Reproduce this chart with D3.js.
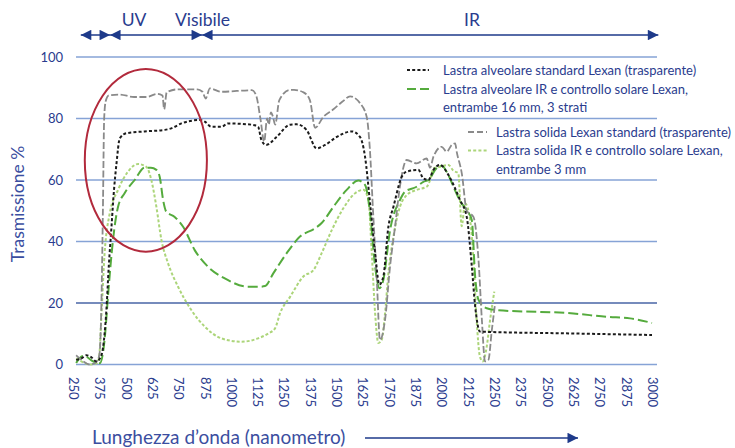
<!DOCTYPE html>
<html><head><meta charset="utf-8">
<script src="https://cdn.jsdelivr.net/npm/d3@7"></script>
<style>
html,body{margin:0;padding:0;background:#fff;}
svg{display:block;font-family:Lato,"Open Sans",sans-serif;}
</style></head>
<body>
<svg id="chart" width="735" height="448"></svg>
<script>
// ---------- DATA ----------
const xTicks = [250,375,500,625,750,875,1000,1125,1250,1375,1500,1625,1750,1875,2000,2125,2250,2375,2500,2625,2750,2875,3000];
const yTicks = [0,20,40,60,80,100];

// [wavelength nm, transmission %]
const alveolareStandard = [[265,1.5],[290,2],[313,3],[335,2.5],[361,1],[385,3],[400,10],[408,17],[420,32],[432,44],[445,57],[456,65],[472,73.5],[503,75.2],[590,75.8],[686,76.3],[717,76.8],[765,78.4],[852,79.5],[876,79],[907,77.3],[955,77.3],[986,78.4],[1097,78],[1129,77.3],[1145,73],[1168,71.4],[1217,74],[1281,78],[1313,78.1],[1360,76.2],[1407,70.3],[1447,71.4],[1503,74],[1574,75.8],[1613,74],[1637,67.6],[1661,52.4],[1685,36.2],[1705,26],[1724,28.6],[1748,44.8],[1772,51.3],[1811,61],[1835,62.7],[1890,63.3],[1914,60.5],[1938,60],[1962,63.3],[1993,64.9],[2030,62],[2060,58],[2088,53.5],[2120,48],[2144,32],[2160,19],[2183,10.7],[2611,10.1],[3000,9.6]];

const alveolareIR = [[265,0.5],[280,2],[295,2.8],[315,2.5],[345,1],[377,0.4],[400,8],[416,22],[428,32],[440,40.5],[464,51.3],[495,55.7],[543,60],[590,64],[620,64],[646,63.3],[662,61],[678,53.5],[693,49.7],[733,48],[773,44.8],[828,37.2],[891,31.8],[971,28],[1081,25.3],[1138,25.3],[1162,25.5],[1202,29.7],[1265,36.2],[1328,41.6],[1400,44.3],[1431,46],[1487,51.3],[1550,56.8],[1605,59.8],[1637,58.4],[1661,49.2],[1685,31.8],[1705,24.8],[1724,27.5],[1756,43.7],[1803,53.5],[1827,56.2],[1882,57.8],[1914,59.4],[1938,60],[1977,63.8],[2001,64.6],[2030,62],[2057,57.8],[2090,53],[2120,50.2],[2144,47],[2160,28.6],[2176,21],[2215,18.3],[2263,17.7],[2627,16.6],[2785,15.5],[2896,15],[3000,13.5]];

const solidaStandard = [[265,3],[290,1.5],[330,0],[355,0.5],[375,3],[385,20],[392,50],[398,80],[405,85.5],[420,87.5],[470,87.8],[540,87],[600,87],[650,88],[675,87.5],[683,83],[695,88.5],[750,89.5],[840,89.5],[865,88.7],[880,86.5],[900,89.8],[955,88.7],[1100,89.2],[1120,87.5],[1140,80],[1158,72.5],[1172,80],[1180,78],[1190,82],[1200,80.5],[1210,78],[1230,86],[1280,89.3],[1300,89.3],[1345,88.5],[1375,86],[1400,77],[1440,80.6],[1487,83],[1530,85.5],[1566,87.2],[1613,85],[1645,80.5],[1660,70],[1675,50],[1693,27.5],[1708,8],[1732,14.5],[1756,32],[1780,45],[1803,58],[1835,66.5],[1882,65.4],[1930,67],[1946,64],[1962,67.6],[2001,70.8],[2025,69.2],[2049,71.4],[2065,71.9],[2073,69],[2097,62],[2120,50],[2152,48],[2176,34],[2192,14.5],[2207,1],[2223,1.5],[2239,11],[2255,20]];

const solidaIR = [[265,2],[290,1],[330,0],[365,0.5],[375,3],[384,14.5],[400,36],[424,49],[464,56.8],[511,62.7],[559,65.2],[598,64.3],[622,60],[646,51.3],[670,40.5],[701,33],[749,25.3],[812,17.7],[876,12.3],[955,8.5],[1050,7.4],[1129,8.5],[1178,10.1],[1210,11.8],[1233,16.6],[1281,22],[1344,28.6],[1392,30.7],[1431,36.2],[1479,43.7],[1534,50.8],[1590,55.7],[1629,56.8],[1653,53.5],[1669,36.2],[1685,16.6],[1700,7],[1716,8],[1732,16.6],[1748,29.7],[1772,41.6],[1803,51.3],[1835,55.1],[1882,56.8],[1930,57.8],[1946,60],[1962,63.8],[1993,64.3],[2033,64.9],[2057,63],[2080,62.2],[2096,45],[2112,52.4],[2136,47],[2152,34],[2167,14.5],[2183,2.5],[2196,1],[2215,5.8],[2231,14.5],[2251,23.7]];

const seriesNames = [
  "Lastra alveolare standard Lexan (trasparente)",
  "Lastra alveolare IR e controllo solare Lexan,",
  "Lastra solida Lexan standard (trasparente)",
  "Lastra solida IR e controllo solare Lexan,"
];
const seriesNotes = ["entrambe 16 mm, 3 strati", "entrambe 3 mm"];

// spectral bands (arrow boundaries, nm) and labels
const bandEdges = [287, 426, 863, 3030];
const bandLabels = [["UV",540],["Visibile",865],["IR",2145]];

const yTitle = "Trasmissione %";
const xTitle = "Lunghezza d\u2019onda (nanometro)";

// highlighted region (ellipse): centre and half-extent in data units
const highlight = {cx:596, cy:66.4, rx:290, ry:29.7};

// ---------- DRAW ----------
const svg = d3.select("#chart");
const navy = "#2a3c8e";
const x = d3.scaleLinear().domain([250,3000]).range([73,652]);
const y = d3.scaleLinear().domain([0,100]).range([364.5,57]);

// gridlines
svg.append("g").selectAll("line").data(yTicks).join("line")
  .attr("x1",76).attr("x2",657)
  .attr("y1",d=>y(d)).attr("y2",d=>y(d))
  .attr("stroke",d=>d===20?"#4965a6":"#86a3d6")
  .attr("stroke-width",1.4);

// y axis labels
const yAxis = d3.axisLeft(y).tickValues(yTicks).tickSize(0).tickPadding(0);
const gy = svg.append("g").attr("transform","translate(63,0)").call(yAxis);
gy.select(".domain").remove();
gy.selectAll("text").attr("fill",navy).style("font-size","13px").style("font-family","Lato,sans-serif");

// x axis labels (rotated)
const xAxis = d3.axisBottom(x).tickValues(xTicks).tickSize(0).tickPadding(0).tickFormat(d3.format("d"));
const gx = svg.append("g").attr("transform","translate(0,377)").call(xAxis);
gx.select(".domain").remove();
gx.selectAll("text").attr("fill",navy).style("font-size","13px").style("font-family","Lato,sans-serif")
  .attr("transform","rotate(90)").attr("text-anchor","start").attr("x",0).attr("y",0).attr("dy","0.35em");

// curves
const line = d3.line().x(d=>x(d[0])).y(d=>y(d[1])).curve(d3.curveMonotoneX);
const styles = [
  {data:alveolareStandard, color:"#1b1b1b", dash:"3,2.2", w:2},
  {data:alveolareIR, color:"#55ab3d", dash:"10,4", w:2},
  {data:solidaStandard, color:"#8a8a8a", dash:"7,2.5", w:1.8},
  {data:solidaIR, color:"#acd57a", dash:"3,2", w:2}
];
const drawOrder = [3,1,2,0];
drawOrder.forEach(i=>{
  const s = styles[i];
  svg.append("path").datum(s.data).attr("d",line)
    .attr("fill","none").attr("stroke",s.color).attr("stroke-width",s.w)
    .attr("stroke-dasharray",s.dash).attr("stroke-linejoin","round");
});

// highlight ellipse
svg.append("ellipse")
  .attr("cx",x(highlight.cx)).attr("cy",y(highlight.cy))
  .attr("rx",x(highlight.cx+highlight.rx)-x(highlight.cx))
  .attr("ry",y(highlight.cy-highlight.ry)-y(highlight.cy))
  .attr("fill","none").attr("stroke","#b22a3c").attr("stroke-width",2);

// legend
const leg = svg.append("g").style("font-family","Lato,sans-serif").style("font-size","13px");
const legItems = [
  {s:0, sx:407, sw:22, tx:443, ty:70},
  {s:1, sx:407, sw:22, tx:443, ty:89, note:0, ny:107.5},
  {s:2, sx:468, sw:19, tx:496, ty:132},
  {s:3, sx:468, sw:19, tx:496, ty:150.5, note:1, ny:169}
];
legItems.forEach(it=>{
  const st = styles[it.s];
  leg.append("line").attr("x1",it.sx).attr("x2",it.sx+it.sw).attr("y1",it.ty).attr("y2",it.ty)
    .attr("stroke",st.color).attr("stroke-width",2.2)
    .attr("stroke-dasharray", it.s===1?"9,4": it.s===2?"6,3":"3,2.2");
  leg.append("text").attr("x",it.tx).attr("y",it.ty).attr("dy","0.35em").attr("fill",navy).text(seriesNames[it.s]);
  if(it.note!==undefined){
    leg.append("text").attr("x",it.tx).attr("y",it.ny).attr("dy","0.35em").attr("fill",navy).text(seriesNotes[it.note]);
  }
});

// band arrows
const defs = svg.append("defs");
defs.append("marker").attr("id","ah").attr("viewBox","0 0 10 10").attr("refX",10).attr("refY",5)
  .attr("markerWidth",13).attr("markerHeight",10.5).attr("markerUnits","userSpaceOnUse").attr("orient","auto-start-reverse")
  .append("path").attr("d","M0,0 L10,5 L0,10 Z").attr("fill","#1e3a8a");
const ay = 35;
for(let i=0;i<bandEdges.length-1;i++){
  svg.append("line").attr("x1",x(bandEdges[i])).attr("x2",x(bandEdges[i+1]))
    .attr("y1",ay).attr("y2",ay).attr("stroke","#1e3a8a").attr("stroke-width",1.5)
    .attr("marker-start","url(#ah)").attr("marker-end","url(#ah)");
}
svg.append("g").selectAll("text").data(bandLabels).join("text")
  .attr("x",d=>x(d[1])).attr("y",26).attr("text-anchor","middle")
  .attr("fill",navy).style("font-size","17.5px").text(d=>d[0]);

// axis titles
svg.append("text").attr("transform","translate(24,204) rotate(-90)").attr("text-anchor","middle")
  .attr("fill","#3b4ea0").style("font-size","17.5px").text(yTitle);
svg.append("text").attr("x",92).attr("y",444).attr("fill","#3b4ea0").style("font-size","19px").text(xTitle);
svg.append("line").attr("x1",365).attr("x2",578).attr("y1",438).attr("y2",438)
  .attr("stroke","#1e3a8a").attr("stroke-width",1.5).attr("marker-end","url(#ah)");
</script>
</body></html>
